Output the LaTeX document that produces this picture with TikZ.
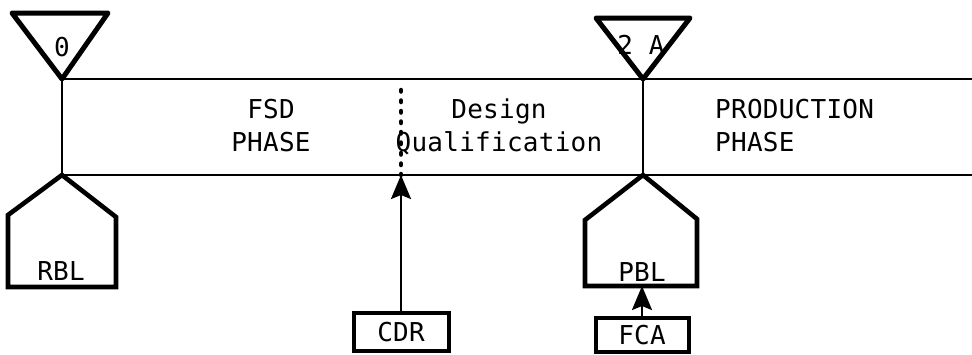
\documentclass[tikz,border=0pt]{standalone}
\usepackage{fontspec}
\usepackage{tikz}
\usetikzlibrary{arrows.meta,positioning,calc}
\newfontfamily\typer{DejaVu Sans Mono}[LetterSpace=1]

\begin{document}
\begin{tikzpicture}[x=1pt,y=-1pt,lbl/.style={font=\typer\fontsize{26}{33}\selectfont,inner sep=0pt},mile/.style={line width=5pt,line join=round},base/.style={line width=4.6pt,line join=miter},band/.style={line width=2.2pt},tag/.style={draw,line width=4pt,minimum width=95pt,minimum height=38pt,inner sep=0pt,font=\typer\fontsize{26}{33}\selectfont},arr/.style={-{Stealth[length=24pt,width=20pt,inset=4pt]},line width=2.4pt},dots/.style={line width=4.5pt,line cap=round,dash pattern=on 1.5pt off 9pt}]
\useasboundingbox (0,0) rectangle (972,354);
% phase band
\coordinate (m0) at (62,79);\coordinate (b0) at (62,175);\coordinate (m2) at (643,79);\coordinate (b2) at (643,175);
\draw[band](m0)--(972,79);\draw[band](b0)--(972,175);\draw[band](m0)--(b0);\draw[band](m2)--(b2);
% milestones
\draw[mile](12,13)--(108,13)--(m0)--cycle;\node[lbl] (zero) at (62,47) {0};
\draw[mile](596,18)--(690,18)--(m2)--cycle;\node[lbl] (twoa) at (641,45) {2 A};
% baselines
\draw[base](b0)--(116,217)--(116,287)--(8,287)--(8,215)--cycle;\node[lbl] (rbl) at (61,271) {RBL};
\draw[base](b2)--(697,219)--(697,286)--(585,286)--(585,220)--cycle;\node[lbl] (pbl) at (642,272) {PBL};
\coordinate (pblbot) at (642,286);
\node[lbl,align=center] (fsd) at (271,126) {FSD\\PHASE};
\node[lbl,align=center] (dq) at (499,127) {Design\\Qualification};
\node[lbl,align=left,anchor=west] (prod) at (715,126) {PRODUCTION\\PHASE};
% reviews and audits
\node[tag] (cdr) at (401,332) {CDR};
\node[tag,minimum width=93pt,minimum height=34pt] (fca) at (642,335) {FCA};
\draw[dots](cdr |- 0,90)--(cdr |- b0);
\draw[arr](cdr)--(cdr |- b0);\draw[arr](fca)--(fca |- pblbot);
\end{tikzpicture}
\end{document}
